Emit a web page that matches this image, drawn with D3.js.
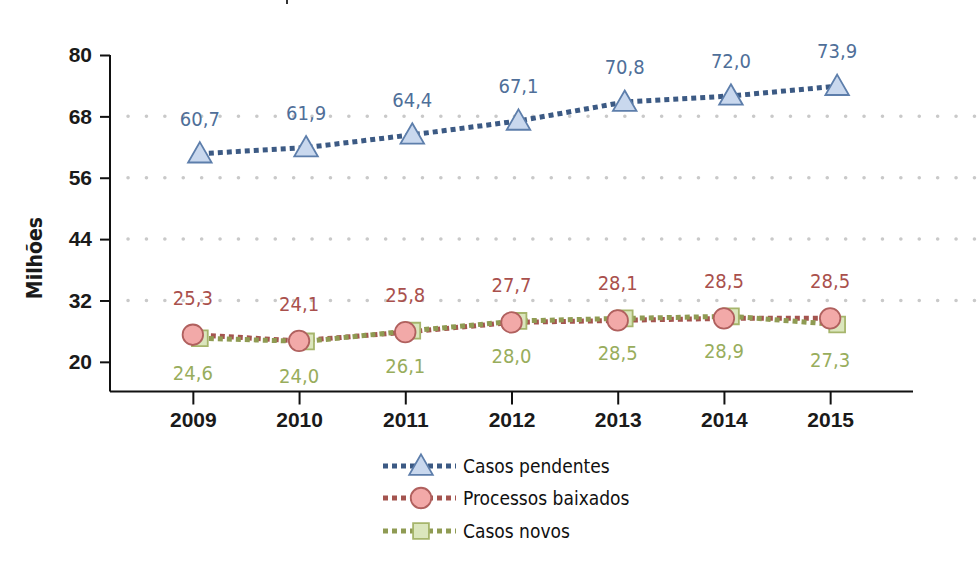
<!DOCTYPE html>
<html>
<head>
<meta charset="utf-8">
<script src="https://cdn.jsdelivr.net/npm/d3@7"></script>
<style>
	body { margin: 0; background: #fff; }
	svg { display: block; font-family: "DejaVu Sans Condensed", "DejaVu Sans", sans-serif; font-stretch: condensed; }
	.grid line { stroke: #c9c9c9; stroke-width: 3.5; stroke-dasharray: 0.1 18.3; stroke-linecap: round; }
</style>
</head>
<body>
<div id="chart"></div>
<script>
var years = [2009, 2010, 2011, 2012, 2013, 2014, 2015];
var pendentes = [60.7, 61.9, 64.4, 67.1, 70.8, 72.0, 73.9];
var baixados = [25.3, 24.1, 25.8, 27.7, 28.1, 28.5, 28.5];
var novos = [24.6, 24.0, 26.1, 28.0, 28.5, 28.9, 27.3];
var yTicks = [20, 32, 44, 56, 68, 80];
var gridTicks = [32, 44, 56, 68];
var legendLabels = ['Casos pendentes', 'Processos baixados', 'Casos novos'];

var width = 978, height = 566;
var ptBR = d3.formatLocale({ decimal: ',', thousands: '.', grouping: [3], currency: ['R$', ''] });
var fmt = ptBR.format('.1f');

var svg = d3.select('#chart').append('svg')
	.attr('width', width)
	.attr('height', height);

var x = d3.scalePoint()
	.domain(years)
	.range([110, 913])
	.padding(0.78);
var y = d3.scaleLinear()
	.domain([14.2, 80])
	.range([391.5, 55]);

// little clipped mark at the very top of the source image
svg.append('rect')
	.attr('x', 286).attr('y', 0)
	.attr('width', 2).attr('height', 4)
	.attr('fill', '#333');

// grid
svg.append('g').attr('class', 'grid')
	.selectAll('line')
	.data(gridTicks)
	.enter().append('line')
	.attr('x1', 128).attr('x2', 978)
	.attr('y1', function(d) { return y(d); })
	.attr('y2', function(d) { return y(d); });

// axes
var yAxis = svg.append('g')
	.attr('transform', 'translate(110,0)')
	.call(d3.axisLeft(y).tickValues(yTicks).tickSize(10).tickPadding(8));
yAxis.select('.domain').attr('d', 'M0,' + y(80) + 'V' + y.range()[0]);
var xAxis = svg.append('g')
	.attr('transform', 'translate(0,' + y.range()[0] + ')')
	.call(d3.axisBottom(x).tickSize(13).tickPadding(8));
xAxis.select('.domain').attr('d', 'M110,0H913');
svg.selectAll('.domain').attr('stroke', '#111').attr('stroke-width', 2);
svg.selectAll('.tick line').attr('stroke', '#111').attr('stroke-width', 2);
svg.selectAll('.tick text')
	.attr('font-size', 21).attr('font-weight', 'bold').attr('fill', '#1a1a1a')
	.attr('font-family', null);

svg.append('text')
	.attr('transform', 'translate(42,258) rotate(-90)')
	.attr('text-anchor', 'middle')
	.attr('font-size', 21).attr('font-weight', 'bold').attr('fill', '#1a1a1a')
	.text('Milhões');

var series = [
	{ name: legendLabels[0], values: pendentes, shift: 7, line: '#3c5a84', label: '#4f6f99', labelDy: -28, shape: 'triangle', fill: '#c9d8ee', stroke: '#5d7eab' },
	{ name: legendLabels[1], values: baixados, shift: 0, line: '#a4544f', label: '#a9504c', labelDy: -30, shape: 'circle', fill: '#f2a9a8', stroke: '#b0605e' },
	{ name: legendLabels[2], values: novos, shift: 7, line: '#8f9b53', label: '#98ad5c', labelDy: 42, shape: 'square', fill: '#dbe6bd', stroke: '#a6b56c' }
];

var symbolFor = {
	triangle: d3.symbol().type(d3.symbolTriangle).size(240),
	circle: d3.symbol().type(d3.symbolCircle).size(330),
	square: d3.symbol().type(d3.symbolSquare).size(250)
};

var lineGen = function(s) {
	return d3.line()
		.x(function(d, i) { return x(years[i]) + s.shift; })
		.y(function(d) { return y(d); });
};

// lines: baixados first, novos drawn over it, pendentes on its own
[series[1], series[2], series[0]].forEach(function(s) {
	svg.append('path')
		.datum(s.values)
		.attr('fill', 'none')
		.attr('stroke', s.line)
		.attr('stroke-width', 5)
		.attr('stroke-dasharray', '5 4')
		.attr('d', lineGen(s));
});

// markers: squares under circles
[series[2], series[1], series[0]].forEach(function(s) {
	svg.append('g').selectAll('path')
		.data(s.values)
		.enter().append('path')
		.attr('transform', function(d, i) {
			var dy = s.shape == 'triangle' ? 2 : 0;
			return 'translate(' + (x(years[i]) + s.shift) + ',' + (y(d) + dy) + ')';
		})
		.attr('d', symbolFor[s.shape])
		.attr('fill', s.fill)
		.attr('stroke', s.stroke)
		.attr('stroke-width', 1.8);
});

// value labels
series.forEach(function(s) {
	svg.append('g').selectAll('text')
		.data(s.values)
		.enter().append('text')
		.attr('x', function(d, i) { return x(years[i]) + (s.shape == 'square' ? 0 : s.shift); })
		.attr('y', function(d) { return y(d) + s.labelDy; })
		.attr('text-anchor', 'middle')
		.attr('font-size', 20)
		.attr('fill', s.label)
		.text(function(d) { return fmt(d); });
});

// legend
var legend = svg.append('g').attr('transform', 'translate(383,0)');
var legendRows = [466, 498, 531];
series.forEach(function(s, i) {
	var row = legend.append('g').attr('transform', 'translate(0,' + legendRows[i] + ')');
	row.append('line')
		.attr('x1', 0).attr('x2', 73)
		.attr('stroke', s.line)
		.attr('stroke-width', 5)
		.attr('stroke-dasharray', '5 4');
	row.append('path')
		.attr('transform', 'translate(38,' + (s.shape == 'triangle' ? 2 : 0) + ')')
		.attr('d', symbolFor[s.shape])
		.attr('fill', s.fill)
		.attr('stroke', s.stroke)
		.attr('stroke-width', 1.8);
	row.append('text')
		.attr('x', 80).attr('dy', '0.35em')
		.attr('font-size', 19)
		.attr('fill', '#111')
		.text(s.name);
});
</script>
</body>
</html>
